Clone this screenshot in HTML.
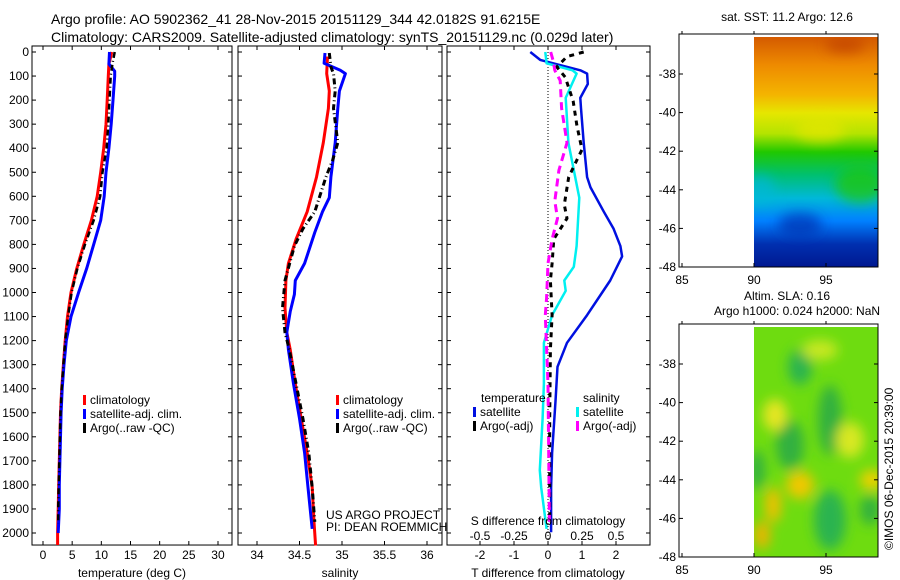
<!DOCTYPE html>
<html><head><meta charset="utf-8"><style>
html,body{margin:0;padding:0;background:#fff}
svg{display:block;font-family:"Liberation Sans",sans-serif}
text{font-size:12px;fill:#000}
</style></head><body>
<svg id="fig" width="900" height="580" viewBox="0 0 900 580">
<defs>
<linearGradient id="sstg" x1="0" y1="0" x2="0" y2="1">
<stop offset="0" stop-color="#d45a00"/><stop offset="0.12" stop-color="#ee8a00"/><stop offset="0.25" stop-color="#f4b400"/>
<stop offset="0.33" stop-color="#e6e600"/><stop offset="0.42" stop-color="#b4e400"/><stop offset="0.5" stop-color="#20c800"/>
<stop offset="0.6" stop-color="#00c070"/><stop offset="0.7" stop-color="#00b8d8"/><stop offset="0.8" stop-color="#0080ff"/>
<stop offset="0.9" stop-color="#0030b0"/><stop offset="1" stop-color="#001890"/></linearGradient>
<filter id="blur"><feGaussianBlur stdDeviation="6"/></filter>
<clipPath id="c2"><rect x="754" y="37" width="124" height="230"/></clipPath>
<clipPath id="c3"><rect x="754" y="327" width="124" height="230"/></clipPath>
</defs>
<text x="51" y="24" style="font-size:14px">Argo profile: AO 5902362_41 28-Nov-2015 20151129_344 42.0182S 91.6215E</text>
<text x="51" y="42" style="font-size:14px">Climatology: CARS2009. Satellite-adjusted climatology: synTS_20151129.nc (0.029d later)</text>
<g id="p1"></g>
<g id="p2"></g>
<g id="p3"></g>
<g id="m1">
<rect x="754" y="37" width="124" height="230" fill="url(#sstg)"/>
<g clip-path="url(#c2)" filter="url(#blur)" opacity="0.7">
<ellipse cx="820" cy="130" rx="25" ry="12" fill="#e6e600"/><ellipse cx="860" cy="185" rx="25" ry="18" fill="#20c800"/>
<ellipse cx="800" cy="225" rx="22" ry="12" fill="#0030b0"/><ellipse cx="760" cy="190" rx="15" ry="15" fill="#00b8d8"/>
<ellipse cx="845" cy="45" rx="20" ry="8" fill="#c04000"/></g>
</g>
<g id="m2">
<rect x="754" y="327" width="124" height="230" fill="#6edc10"/>
<g clip-path="url(#c3)" filter="url(#blur)">
<ellipse cx="800" cy="367" rx="12" ry="18" fill="#2cb450"/><ellipse cx="790" cy="445" rx="14" ry="25" fill="#30b040"/>
<ellipse cx="830" cy="420" rx="12" ry="35" fill="#30b040"/><ellipse cx="830" cy="520" rx="16" ry="30" fill="#2cb450"/>
<ellipse cx="870" cy="510" rx="10" ry="15" fill="#30b040"/><ellipse cx="757" cy="470" rx="8" ry="20" fill="#30b040"/>
<ellipse cx="800" cy="485" rx="14" ry="14" fill="#f0c800"/><ellipse cx="773" cy="505" rx="8" ry="18" fill="#f0c000"/>
<ellipse cx="762" cy="535" rx="8" ry="14" fill="#f0b400"/><ellipse cx="872" cy="480" rx="12" ry="10" fill="#f0d000"/>
<ellipse cx="775" cy="415" rx="12" ry="16" fill="#e6e620"/><ellipse cx="850" cy="440" rx="14" ry="18" fill="#d8e820"/>
<ellipse cx="820" cy="350" rx="18" ry="10" fill="#c8e820"/></g>
</g>
</svg>
<script>
// ---- data ----
const tDepthClim=[0,50,100,200,300,400,500,600,700,800,900,1000,1100,1200,1300,1400,1500,1600,1700,1800,1900,2000,2050];
const tClim=[11.8,11.3,11.2,11.0,10.8,10.4,9.9,9.3,8.3,7.0,5.8,4.8,4.2,3.8,3.5,3.2,3.0,2.9,2.8,2.7,2.6,2.5,2.5];
const tDepthSat=[0,50,80,100,200,300,400,500,600,700,800,900,1000,1100,1200,1300,1400,1500,1600,1700,1800,1900,2000];
const tSat=[11.4,11.3,12.3,12.3,12.0,11.7,11.3,10.8,10.5,9.9,8.7,7.5,6.1,4.8,4.0,3.6,3.3,3.1,3.0,2.9,2.8,2.8,2.6];
const tDepthArgo=[0,50,100,200,300,400,500,600,700,800,900,1000,1100,1200,1300,1400,1500,1600,1700,1800,1900,1960];
const tArgo=[12.3,11.9,11.6,11.4,11.2,10.9,10.2,9.8,8.7,7.2,5.9,4.9,4.3,3.8,3.5,3.2,3.0,2.9,2.8,2.7,2.6,2.6];
const sDepthClim=[19,90,162,234,377,520,664,778,879,950,1065,1166,1237,1380,1524,1667,1811,1954,2052];
const sClim=[34.83,34.82,34.85,34.84,34.78,34.70,34.59,34.46,34.37,34.34,34.33,34.35,34.39,34.45,34.52,34.59,34.65,34.67,34.69];
const sDepthSat=[4,47,76,90,162,234,377,520,606,664,750,879,950,1008,1080,1166,1237,1380,1524,1667,1811,1983];
const sSat=[34.80,34.79,34.98,35.04,34.97,34.95,34.92,34.87,34.85,34.77,34.68,34.56,34.45,34.44,34.39,34.35,34.37,34.43,34.50,34.56,34.60,34.65];
const sDepthArgo=[4,62,90,162,234,377,449,520,664,735,807,950,1065,1166,1237,1380,1524,1667,1811,1954];
const sArgo=[34.85,34.87,34.90,34.92,34.90,34.95,34.89,34.81,34.68,34.54,34.44,34.33,34.30,34.33,34.38,34.46,34.54,34.61,34.65,34.68];
const dDepthTSat=[0,33,76,90,133,191,234,377,520,563,664,735,807,850,950,1094,1209,1309,1452,1667,1811,1997];
const dTSat=[-0.52,-0.23,0.95,1.15,1.17,0.95,0.97,1.05,1.15,1.25,1.64,1.93,2.13,2.18,1.83,1.15,0.56,0.28,0.22,0.12,0.09,0.09];
const dDepthSSat=[0,47,76,90,191,377,520,606,807,893,950,993,1094,1209,1380,1524,1739,1811,1983];
const dSSat=[-0.02,-0.01,0.18,0.21,0.13,0.15,0.20,0.23,0.21,0.19,0.12,0.13,0.03,-0.03,-0.03,-0.04,-0.06,-0.05,-0.01];
const dDepthTArgo=[0,19,62,105,205,306,406,449,520,635,692,778,879,950,1094,1237,1524,1954];
const dTArgo=[1.05,0.56,0.26,0.51,0.74,0.85,1.0,0.85,0.61,0.48,0.56,0.17,0.12,0.07,0.12,0.07,0.05,0.05];
const dDepthSArgo=[0,40,76,119,234,377,492,620,692,778,879,1022,1094,1380,1954];
const dSArgo=[0.02,0.04,0.05,0.09,0.10,0.14,0.08,0.05,0.07,0.03,0,-0.01,-0.02,0,0.01];
const depthTicks=[0,100,200,300,400,500,600,700,800,900,1000,1100,1200,1300,1400,1500,1600,1700,1800,1900,2000];
const tTicks=[0,5,10,15,20,25,30];
const sTicks=[34,34.5,35,35.5,36];
const sTickLabels=["34","34.5","35","35.5","36"];
const dtTicks=[-2,-1,0,1,2];
const dsTicks=[-0.5,-0.25,0,0.25,0.5];
const latTicks=[-38,-40,-42,-44,-46,-48];
const lonTicks=[85,90,95];

const NS="http://www.w3.org/2000/svg";
function mk(parent,tag,attrs,txt){const e=document.createElementNS(NS,tag);for(const k in attrs)e.setAttribute(k,attrs[k]);if(txt!==undefined)e.textContent=txt;parent.appendChild(e);return e;}
const y=d=>52+d*0.2405;
const TOP=y(-25),BOT=y(2050);
function frame(g,x0,x1,name){
  const r=mk(g,'rect',{x:x0,y:TOP,width:x1-x0,height:BOT-TOP,fill:'none',stroke:'#000','stroke-width':1});
  
  
}
function yticks(g,x0,x1,labels){
  depthTicks.forEach(d=>{
    mk(g,'line',{x1:x0,x2:x0+4,y1:y(d),y2:y(d),stroke:'#000'});
    mk(g,'line',{x1:x1,x2:x1-4,y1:y(d),y2:y(d),stroke:'#000'});
    if(labels){const t=mk(g,'text',{x:x0-3,y:y(d)+4,'text-anchor':'end'},String(d));
      
      }
  });
}
function xticks(g,vals,labs,fx,ly){
  vals.forEach((v,i)=>{
    mk(g,'line',{x1:fx(v),x2:fx(v),y1:TOP,y2:TOP+4,stroke:'#000'});
    mk(g,'line',{x1:fx(v),x2:fx(v),y1:BOT,y2:BOT-4,stroke:'#000'});
    if(ly){const t=mk(g,'text',{x:fx(v),y:ly,'text-anchor':'middle'},labs[i]);
      
      }
  });
}
function line(g,xs,ds,fx,color,w,dash,name){
  const pts=xs.map((v,i)=>fx(v).toFixed(1)+','+y(ds[i]).toFixed(1)).join(' ');
  const a={points:pts,fill:'none',stroke:color,'stroke-width':w,'stroke-linejoin':'round'};
  if(dash)a['stroke-dasharray']=dash;
  const p=mk(g,'polyline',a);
  
  
}
function legend(g,x,yy,color,label,name){
  mk(g,'rect',{x:x,y:yy-9,width:3,height:10,fill:color});
  const t=mk(g,'text',{x:x+7,y:yy},label);
  
  
}
// panel 1
const p1=document.getElementById('p1');
const fT=v=>43+v*5.833;
frame(p1,32,232,'temperature');yticks(p1,32,232,true);
xticks(p1,tTicks,tTicks.map(String),fT,559);
line(p1,tClim,tDepthClim,fT,'#f00',3,null,'climatology-temp-line');
line(p1,tSat,tDepthSat,fT,'#00f',3,null,'satellite-temp-line');
line(p1,tArgo,tDepthArgo,fT,'#000',2.5,'6,3,1,3','argo-temp-line');
legend(p1,83,404,'#f00','climatology','legend-climatology');
legend(p1,83,418,'#00f','satellite-adj. clim.','legend-satellite');
legend(p1,83,432,'#000','Argo(..raw -QC)','legend-argo');
mk(p1,'text',{x:132,y:577,'text-anchor':'middle'},'temperature (deg C)');
// panel 2
const p2=document.getElementById('p2');
const fS=v=>257+(v-34)*85;
frame(p2,238,442,'salinity');yticks(p2,238,442,false);
xticks(p2,sTicks,sTickLabels,fS,559);
line(p2,sClim,sDepthClim,fS,'#f00',3,null,'climatology-salinity-line');
line(p2,sSat,sDepthSat,fS,'#00f',3,null,'satellite-salinity-line');
line(p2,sArgo,sDepthArgo,fS,'#000',3,'6,3,1,3','argo-salinity-line');
legend(p2,336,404,'#f00','climatology','legend-climatology-2');
legend(p2,336,418,'#00f','satellite-adj. clim.','legend-satellite-2');
legend(p2,336,432,'#000','Argo(..raw -QC)','legend-argo-2');
mk(p2,'text',{x:326,y:519},'US ARGO PROJECT');
mk(p2,'text',{x:326,y:531},'PI: DEAN ROEMMICH');
mk(p2,'text',{x:340,y:577,'text-anchor':'middle'},'salinity');
// panel 3
const p3=document.getElementById('p3');
const fD=v=>548+v*34;
const fDS=v=>548+v*136;
frame(p3,447,650,'difference');yticks(p3,447,650,false);
xticks(p3,dtTicks,dtTicks.map(String),fD,559);
mk(p3,'line',{x1:fD(0),x2:fD(0),y1:TOP,y2:BOT,stroke:'#000','stroke-dasharray':'1,2'});
line(p3,dTSat,dDepthTSat,fD,'#0010e0',2.5,null,'temp-satellite-diff-line');
line(p3,dSSat,dDepthSSat,fDS,'#00f0f0',2.5,null,'salinity-satellite-diff-line');
line(p3,dTArgo,dDepthTArgo,fD,'#000',3,'5,5','temp-argo-diff-line');
line(p3,dSArgo,dDepthSArgo,fDS,'#f0f',3,'8,5','salinity-argo-diff-line');
mk(p3,'text',{x:481,y:402},'temperature');
mk(p3,'text',{x:583,y:402},'salinity');
legend(p3,473,416,'#0010e0','satellite','legend-temp-satellite');
legend(p3,473,430,'#000','Argo(-adj)','legend-temp-argo');
legend(p3,576,416,'#00f0f0','satellite','legend-sal-satellite');
legend(p3,576,430,'#f0f','Argo(-adj)','legend-sal-argo');
mk(p3,'text',{x:548,y:525,'text-anchor':'middle'},'S difference from climatology');
dsTicks.forEach(v=>mk(p3,'text',{x:fDS(v),y:540,'text-anchor':'middle'},String(v)));
mk(p3,'text',{x:548,y:577,'text-anchor':'middle'},'T difference from climatology');
// maps
function mapAxes(gid,top,title,ty){
  const g=document.getElementById(gid);
  const fy=l=>top+40+(-38-l)*19.3;
  const fx=l=>754+(l-90)*14.4;
  const r=mk(g,'rect',{x:679,y:top,width:199,height:fy(-48)-top,fill:'none',stroke:'#000'});
  
  
  latTicks.forEach(l=>{mk(g,'line',{x1:679,x2:683,y1:fy(l),y2:fy(l),stroke:'#000'});
    mk(g,'line',{x1:878,x2:874,y1:fy(l),y2:fy(l),stroke:'#000'});
    mk(g,'text',{x:676,y:fy(l)+4,'text-anchor':'end'},String(l));});
  lonTicks.forEach(l=>{mk(g,'line',{x1:fx(l),x2:fx(l),y1:fy(-48),y2:fy(-48)-4,stroke:'#000'});
    mk(g,'line',{x1:fx(l),x2:fx(l),y1:top,y2:top-3,stroke:'#000'});
    mk(g,'text',{x:fx(l),y:fy(-48)+17,'text-anchor':'middle'},String(l));});
  title.forEach((t,i)=>mk(g,'text',{x:[787,797][i]||787,y:ty[i],'text-anchor':'middle'},t));
}
mapAxes('m1',34,['sat. SST: 11.2 Argo: 12.6'],[21]);
mapAxes('m2',324,['Altim. SLA: 0.16','Argo h1000: 0.024 h2000: NaN'],[300,315]);
const im=mk(document.getElementById('m2'),'text',{x:0,y:0,transform:'translate(893,550) rotate(-90)'},'©IMOS 06-Dec-2015 20:39:00');


</script>
</body></html>
